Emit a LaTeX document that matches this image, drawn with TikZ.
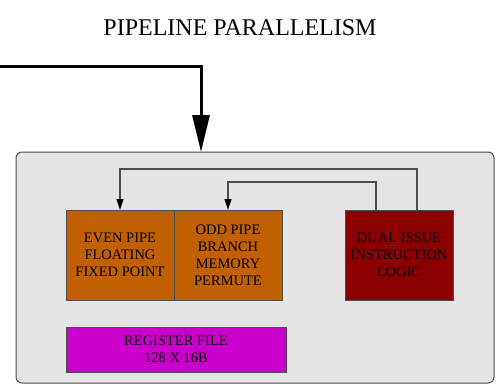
\documentclass[tikz,border=0pt]{standalone}
\usepackage{fontspec}
\setmainfont{Liberation Serif}
\usepackage{tikz}
\usetikzlibrary{arrows.meta,positioning,calc}

\definecolor{pipeorange}{RGB}{192,96,0}
\definecolor{issuered}{RGB}{139,0,0}
\definecolor{regmagenta}{RGB}{204,0,204}
\definecolor{spugray}{RGB}{229,229,229}

\begin{document}
\begin{tikzpicture}[
  x=1pt,
  y=-1pt,
  >=Latex,
  unit/.style={
    draw=black!70,
    line width=0.8pt,
    align=center,
    inner sep=2pt,
    outer sep=0pt,
    font=\fontsize{14.5}{17}\selectfont
  },
  flow/.style={
    -{Triangle[length=11pt,width=7pt,color=black]},
    line width=1.2pt,
    draw=black!70
  },
  bigflow/.style={
    -{Triangle[length=37pt,width=17pt]},
    line width=3pt,
    draw=black
  }
]
\useasboundingbox (0,0) rectangle (497,385);

% Title
\node[font=\fontsize{24}{28}\selectfont] (title) at (240,28) {PIPELINE PARALLELISM};

% Processing element frame
\node[draw=black!70,line width=1pt,fill=spugray,rounded corners=6pt,
  minimum width=478pt,minimum height=231pt,outer sep=0pt] (spu) at (255,267.5) {};

% Pipes
\node[unit,fill=pipeorange,minimum width=108pt,minimum height=90pt] (even) at (120,255) {
  EVEN PIPE\\
  FLOATING\\
  FIXED POINT
};

\node[unit,fill=pipeorange,minimum width=108pt,minimum height=90pt,right=0pt of even] (odd) {
  ODD PIPE\\
  BRANCH\\
  MEMORY\\
  PERMUTE
};

\node[unit,fill=issuered,minimum width=108pt,minimum height=90pt] (dual) at (399,255) {
  DUAL ISSUE\\
  INSTRUCTION\\
  LOGIC
};

\node[unit,fill=regmagenta,minimum width=220pt,minimum height=45pt] (regfile) at (176,349.5) {
  REGISTER FILE\\
  128 X 16B
};

% Issue paths
\draw[flow] ([xshift=18pt]dual.north) -- ++(0,-41) -| (even.north);
\draw[flow] ([xshift=-23pt]dual.north) -- ++(0,-28) -| (odd.north);

% Incoming stream
\coordinate (feed) at (0,67);
\draw[bigflow] (feed) -| ([xshift=-54pt]spu.north);

\end{tikzpicture}
\end{document}
